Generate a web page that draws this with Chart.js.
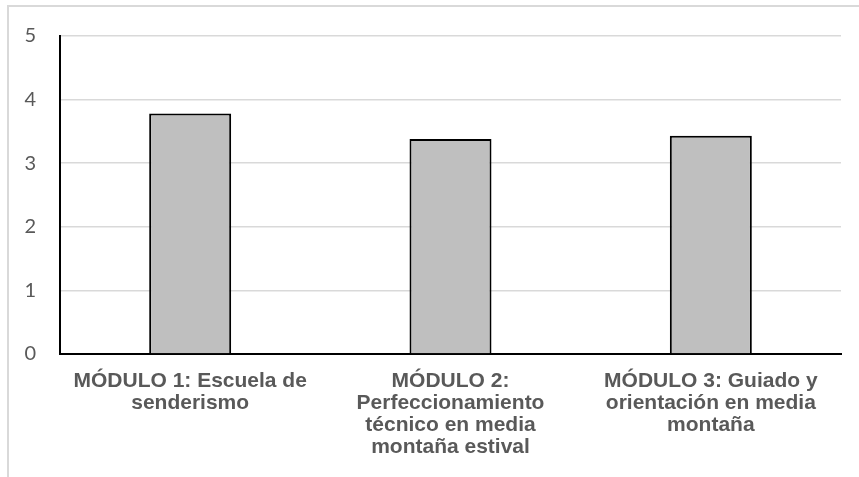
<!DOCTYPE html>
<html>
<head>
<meta charset="utf-8">
<script src="https://cdn.jsdelivr.net/npm/chart.js@4"></script>
<style>
    html, body { margin: 0; padding: 0; background: #fff; }
    .frame {
        position: absolute;
        left: 7px;
        top: 5px;
        width: 900px;
        height: 500px;
        border-top: 2px solid #d9d9d9;
        border-left: 2px solid #d9d9d9;
    }
    .chart-box {
        position: absolute;
        left: 0;
        top: 0;
        width: 859px;
        height: 477px;
    }
</style>
</head>
<body>
<div class="frame"></div>
<div class="chart-box"><canvas id="modulesChart" width="859" height="477"></canvas></div>
<script>
const categories = [
    ['MÓDULO 1: Escuela de', 'senderismo'],
    ['MÓDULO 2:', 'Perfeccionamiento', 'técnico en media', 'montaña estival'],
    ['MÓDULO 3: Guiado y', 'orientación en media', 'montaña']
];
const scores = [3.78, 3.38, 3.43];
const yTicks = [0, 1, 2, 3, 4, 5];

const labelColor = '#595959';

new Chart(document.getElementById('modulesChart'), {
    type: 'bar',
    data: {
        labels: categories,
        datasets: [{
            data: scores,
            backgroundColor: '#bfbfbf',
            borderColor: '#000000',
            borderWidth: 2,
            barPercentage: 0.315,
            categoryPercentage: 1
        }]
    },
    options: {
        responsive: false,
        animation: false,
        layout: {
            padding: { top: 35, right: 18, bottom: 0, left: 0 }
        },
        plugins: {
            legend: { display: false },
            tooltip: { enabled: false }
        },
        scales: {
            x: {
                grid: { display: false, drawTicks: false },
                border: { display: true, color: '#000000', width: 2 },
                ticks: {
                    color: labelColor,
                    padding: 16,
                    maxRotation: 0,
                    autoSkip: false,
                    font: { family: 'Liberation Sans, Arial, sans-serif', size: 21, weight: 'bold', lineHeight: 1.05 }
                },
                afterFit: scale => { scale.height = 123; }
            },
            y: {
                min: yTicks[0],
                max: yTicks[yTicks.length - 1],
                grid: { color: '#d9d9d9', lineWidth: 1.5, drawTicks: false },
                border: { display: true, color: '#000000', width: 2 },
                ticks: {
                    stepSize: 1,
                    color: labelColor,
                    padding: 24,
                    font: { family: 'Lato, Open Sans, sans-serif', size: 20 }
                },
                afterFit: scale => { scale.width = 60; }
            }
        }
    }
});
</script>
</body>
</html>
